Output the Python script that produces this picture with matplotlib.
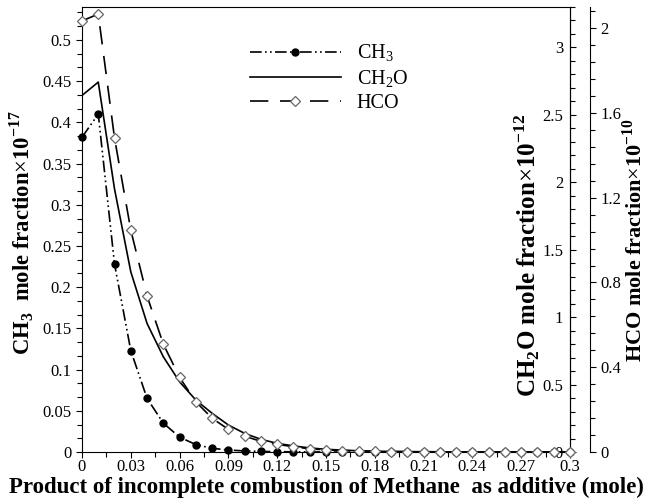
import numpy as np
from matplotlib import pyplot as plt
from matplotlib.ticker import MultipleLocator

plt.rcParams['font.family'] = ['Liberation Serif', 'DejaVu Serif']
plt.rcParams['mathtext.fontset'] = 'custom'
plt.rcParams['mathtext.rm'] = 'Liberation Serif'
plt.rcParams['mathtext.bf'] = 'Liberation Serif:bold'

# mole of product of incomplete combustion added
x = [0.00, 0.01, 0.02, 0.03, 0.04, 0.05, 0.06, 0.07, 0.08, 0.09, 0.10,
     0.11, 0.12, 0.13, 0.14, 0.15, 0.16, 0.17, 0.18, 0.19, 0.20,
     0.21, 0.22, 0.23, 0.24, 0.25, 0.26, 0.27, 0.28, 0.29, 0.30]

# CH3 (x1e-17)
ch3 = [0.382, 0.410, 0.228, 0.123, 0.065, 0.035, 0.018, 0.009, 0.0045, 0.0024, 0.0013,
       0.0007, 0.0004, 0.0002, 0.0001, 0.0, 0.0, 0.0, 0.0, 0.0, 0.0,
       0.0, 0.0, 0.0, 0.0, 0.0, 0.0, 0.0, 0.0, 0.0, 0.0]
# CH2O (x1e-12)
ch2o = [2.644, 2.743, 1.95, 1.336, 0.953, 0.706, 0.52, 0.385, 0.287, 0.20, 0.138,
        0.094, 0.064, 0.045, 0.030, 0.020, 0.014, 0.009, 0.006, 0.004, 0.003,
        0.002, 0.0015, 0.001, 0.001, 0.0005, 0.0005, 0.0003, 0.0003, 0.0002, 0.0002]
# HCO (x1e-10)
hco = [2.034, 2.067, 1.481, 1.047, 0.736, 0.509, 0.352, 0.237, 0.159, 0.107, 0.075,
       0.050, 0.036, 0.025, 0.015, 0.010, 0.007, 0.005, 0.003, 0.002, 0.0015,
       0.001, 0.001, 0.0005, 0.0005, 0.0003, 0.0003, 0.0002, 0.0002, 0.0001, 0.0001]

fig = plt.figure(figsize=(6.46, 5.04), dpi=100)
ax1 = fig.add_axes([82/646, 52/504, 488/646, 445/504])
ax2 = ax1.twinx()
ax3 = ax1.twinx()
ax3.spines['right'].set_position(('axes', (590-82)/488))
for a in (ax2, ax3):
    for s in ('left', 'top', 'bottom'):
        a.spines[s].set_visible(False)

l1, = ax1.plot(x, ch3, color='k', lw=1.2, ls=(0, (7, 2, 1, 2, 1, 2)),
               marker='o', ms=5, mfc='k', mec='k', clip_on=False, zorder=5)
l2, = ax2.plot(x, ch2o, color='k', lw=1.2, ls='-')
l3, = ax3.plot(x, hco, color='k', lw=1.2, ls=(0, (11, 7)),
               marker='D', ms=5, mfc='white', mec='#666666', mew=0.9, clip_on=False)

ax1.set_xlim(0, 0.3)
ax1.set_ylim(0, 0.54)
ax2.set_ylim(0, 3.3)
ax3.set_ylim(0, 2.1)

ax1.xaxis.set_major_locator(MultipleLocator(0.03))
ax1.xaxis.set_minor_locator(MultipleLocator(0.015))
ax1.yaxis.set_major_locator(MultipleLocator(0.05))
ax1.yaxis.set_minor_locator(MultipleLocator(0.05/3))
ax2.yaxis.set_major_locator(MultipleLocator(0.5))
ax2.yaxis.set_minor_locator(MultipleLocator(0.1))
ax3.yaxis.set_major_locator(MultipleLocator(0.4))
ax3.yaxis.set_minor_locator(MultipleLocator(0.08))

def fmt(v, pos):
    s = ('%.3f' % v).rstrip('0').rstrip('.')
    return s

for a in (ax1, ax2, ax3):
    a.tick_params(which='major', direction='out', length=4, width=0.8, labelsize=12)
    a.tick_params(which='minor', direction='out', length=3.5, width=0.8)
ax1.xaxis.set_major_formatter(fmt)
ax1.yaxis.set_major_formatter(fmt)
ax2.yaxis.set_major_formatter(fmt)
ax3.yaxis.set_major_formatter(fmt)
ax1.tick_params(axis='x', pad=1)

# CH2O tick labels sit inside the plot, left of its spine
ax2.tick_params(axis='y', which='major', pad=-9)
fig.canvas.draw()
for t in ax2.yaxis.get_major_ticks():
    t.label2.set_horizontalalignment('right')

ax1.set_xlabel('Product of incomplete combustion of Methane  as additive (mole)',
               fontsize=16.5, fontweight='bold', labelpad=1)
ax1.set_ylabel(r'CH$_\mathbf{3}$  mole fraction$\times$10$^{\mathbf{-17}}$',
               fontsize=16.3, fontweight='bold')
ax1.yaxis.set_label_coords(-(82-36)/488, (452-233)/445)
ax2.set_ylabel(r'CH$_\mathbf{2}$O mole fraction$\times$10$^{\mathbf{-12}}$',
               fontsize=18, fontweight='bold')
ax2.yaxis.set_label_coords((512-82)/488, (452-255)/445)
ax3.set_ylabel(r'HCO mole fraction$\times$10$^{\mathbf{-10}}$',
               fontsize=16, fontweight='bold')
ax3.yaxis.set_label_coords((622-82)/488, (452-240)/445)

ax1.legend([l1, l2, l3], [r'CH$_3$', r'CH$_2$O', 'HCO'], frameon=False,
           fontsize=14.5, handlelength=4.5, handletextpad=0.8, labelspacing=0.2,
           borderpad=0, borderaxespad=0,
           loc='upper left', bbox_to_anchor=(250/646, 1-43/504),
           bbox_transform=fig.transFigure)

plt.savefig('out.png', dpi=100)
